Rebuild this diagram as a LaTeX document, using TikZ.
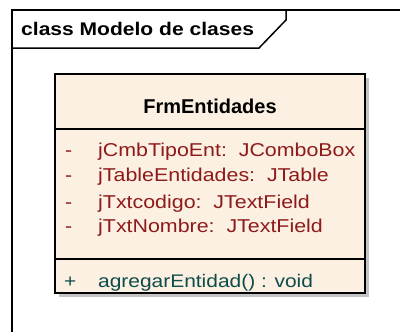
\documentclass[tikz,border=0pt]{standalone}
\usepackage{fontspec}
\setmainfont[FakeStretch=1.15]{Liberation Sans}
\newfontfamily\namefont{Liberation Sans}
\usepackage{xcolor}
\usepackage{tikz}
\usetikzlibrary{calc}

\definecolor{boxfill}{HTML}{FBF0E2}
\definecolor{attrred}{HTML}{8E1A1A}
\definecolor{opteal}{HTML}{0F4D4A}
\definecolor{shadowgray}{HTML}{C4C4C4}

\begin{document}
\begin{tikzpicture}[x=1pt, y=-1pt,
        classbox/.style={draw=black, line width=2pt, fill=boxfill, inner sep=0pt},
        attrtext/.style={anchor=base west, inner sep=0pt, text=attrred, font=\fontsize{18.6}{20}\selectfont},
        optext/.style={anchor=base west, inner sep=0pt, text=opteal, font=\fontsize{18.2}{20}\selectfont}]
        \useasboundingbox (0,0) rectangle (400,332);

        % Draw diagram frame and name tab
        \draw[line width=2pt] (12,332) -- (12,10) -- (400,10);
        \draw[line width=1.5pt] (12,48) -- (259,48) -- (286,20) -- (286,10);
        \node[anchor=base west, inner sep=0pt, font=\bfseries\fontsize{18.3}{20}\selectfont] (title) at (21,35) {class Modelo de clases};

        % Draw class box with its shadow
        \fill[shadowgray] (59,78) rectangle (369,297);
        \node[classbox, minimum width=310pt, minimum height=219pt, anchor=north west] (frm) at (54,73) {};
        \draw[line width=2pt] ($(frm.north west)+(0,56)$) coordinate (d1) -- (d1 -| frm.east);
        \draw[line width=2pt] ($(frm.north west)+(0,186)$) coordinate (d2) -- (d2 -| frm.east);

        % Class name
        \node[anchor=base, inner sep=0pt, font=\namefont\bfseries\fontsize{20}{22}\selectfont] (name) at (210,113.5) {FrmEntidades};

        % Attributes
        \foreach \y/\attr [count=\i] in {157/{jCmbTipoEnt:\ \ JComboBox},
                                          182/{jTableEntidades:\ \ JTable},
                                          208/{jTxtcodigo:\ \ JTextField},
                                          233/{jTxtNombre:\ \ JTextField}} {
            \node[attrtext] (vis\i) at (65,\y) {-};
            \node[attrtext] (attr\i) at (98,\y) {\attr};
        }

        % Operations
        \node[optext] (visop) at (64,287) {+};
        \node[optext] (op) at (98,287) {agregarEntidad() : void};

    \end{tikzpicture}
\end{document}
